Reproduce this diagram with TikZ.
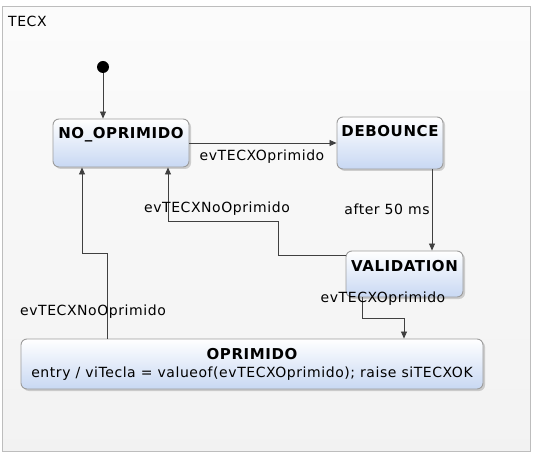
\documentclass[tikz,border=0pt]{standalone}
\usepackage{fontspec}
\setmainfont{DejaVu Sans}
\usepackage{tikz}
\usetikzlibrary{arrows.meta,positioning,shadows}
\definecolor{framegray}{HTML}{BDBDBD}
\definecolor{boxline}{HTML}{9C9C9C}
\definecolor{boxblue}{HTML}{C8D8F3}
\definecolor{wire}{HTML}{404040}

\tikzset{
  statebox/.style={rectangle,rounded corners=6pt,draw=boxline,line width=0.9pt,
    top color=white,bottom color=boxblue,align=center,inner sep=0pt,
    drop shadow={shadow xshift=2pt,shadow yshift=-2pt,opacity=0.35},
    font=\fontsize{15}{17}\selectfont\bfseries\addfontfeature{LetterSpace=4}},
  titletext/.style={inner sep=0pt,font=\fontsize{15}{17}\selectfont\bfseries\addfontfeature{LetterSpace=4}},
  evlabel/.style={font=\fontsize{14}{16}\selectfont\addfontfeature{LetterSpace=4},inner sep=0pt},
  trans/.style={-{Triangle[length=7pt,width=6pt]},wire,line width=0.8pt},
}

\begin{document}
\begin{tikzpicture}[x=1pt,y=-1pt]
\useasboundingbox (0,0) rectangle (535,454);
% region frame
\shade[top color=gray!3,bottom color=gray!10,draw=framegray,line width=1pt] (2,7) rectangle (530,451);
\node[evlabel,anchor=west] (region) at (8,21) {TECX};

% states
\node[circle,fill=black,minimum size=12pt,inner sep=0pt] (init) at (103,67) {};
\node[statebox,minimum width=136pt,minimum height=48pt,text depth=24pt,text height=16pt] (noop) at (121,143) {NO\_OPRIMIDO};
\node[statebox,minimum width=106pt,minimum height=52pt,text depth=28pt,text height=16pt] (deb) at (390,143) {DEBOUNCE};
\node[statebox,minimum width=117pt,minimum height=46pt,text depth=22pt,text height=16pt] (val) at (404.5,274) {VALIDATION};
\node[statebox,minimum width=462pt,minimum height=50pt] (opr) at (252,364) {};
\node[titletext] (oprtitle) at (252,354) {OPRIMIDO};
\node[evlabel] (oprentry) at (252,374) {entry / viTecla = valueof(evTECXOprimido); raise siTECXOK};

% transitions
\draw[trans] (init) -- (noop.north -| init);
\draw[trans] (noop.east) -- (deb.west);
\node[evlabel] (l1) at (262,157) {evTECXOprimido};
\draw[trans] (deb.south -| 432,0) -- (val.north -| 432,0);
\node[evlabel] (l2) at (387,209) {after 50 ms};
\draw[trans] (val.west |- 0,255) -- (278,255) -- (278,221) -- (168,221) -- (noop.south -| 168,0);
\node[evlabel] (l3) at (217,209) {evTECXNoOprimido};
\draw[trans] (val.south -| 362,0) -- (362,318) -- (404,318) -- (opr.north -| 404,0);
\node[evlabel] (l4) at (383,299) {evTECXOprimido};
\draw[trans] (opr.north -| 107,0) -- (107,253) -- (82,253) -- (noop.south -| 82,0);
\node[evlabel] (l5) at (93,312) {evTECXNoOprimido};
\end{tikzpicture}
\end{document}
